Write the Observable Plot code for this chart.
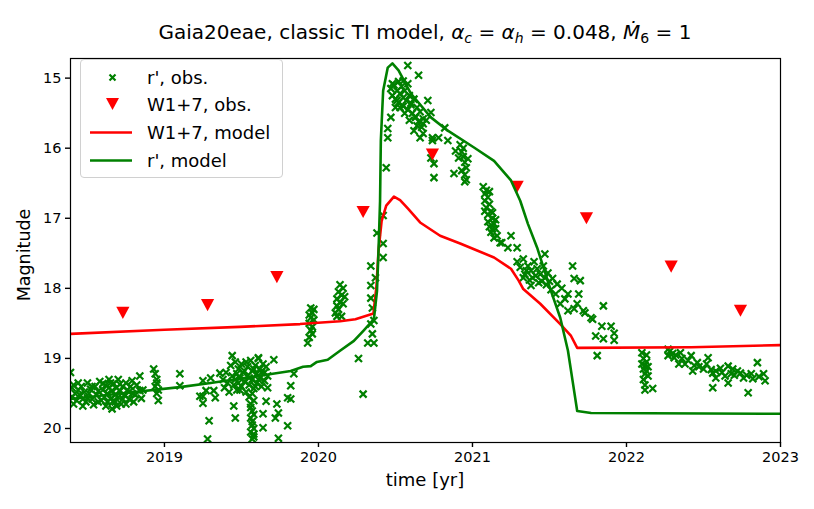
<!DOCTYPE html>
<html><head><meta charset="utf-8">
<script src="https://cdn.jsdelivr.net/npm/d3@7"></script>
<script src="https://cdn.jsdelivr.net/npm/@observablehq/plot@0.6"></script>
<style>
body{margin:0;background:#fff;font-family:"DejaVu Sans",sans-serif;}
#wrap{position:relative;width:814px;height:509px;overflow:hidden;}
#title{position:absolute;left:70px;width:710px;top:20px;text-align:center;font-size:20px;line-height:24px;white-space:nowrap;}
#title sub{font-size:14px;vertical-align:-4px;line-height:0;}
#xlab{position:absolute;left:70px;width:710px;top:469px;text-align:center;font-size:18px;}
#ylab{position:absolute;left:24px;top:255px;font-size:17.5px;transform:translate(-50%,-50%) rotate(-90deg);white-space:nowrap;}
#legend{position:absolute;left:80px;top:59px;width:201px;height:117px;border:1px solid #d0d0d0;border-radius:4px;background:rgba(255,255,255,0.8);}
.le{position:absolute;left:0;height:26px;display:flex;align-items:center;font-size:18px;white-space:nowrap;}
.le svg{width:56px;height:26px;margin-left:4px;margin-right:6px;}
</style></head><body>
<div id="wrap">
<div id="chart"></div>
<div id="title">Gaia20eae, classic TI model, <i>α</i><sub><i>c</i></sub> = <i>α</i><sub><i>h</i></sub> = 0.048, <i>Ṁ</i><sub>6</sub> = 1</div>
<div id="xlab">time [yr]</div>
<div id="ylab">Magnitude</div>
<div id="legend"></div>
</div>
<script>
// r' observations: [time (yr), magnitude]
const rObsEarly = [
[2018.39,19.20],[2018.40,19.42],[2018.40,19.55],[2018.41,19.38],[2018.42,19.50],[2018.43,19.60],[2018.44,19.45],[2018.45,19.52],[2018.46,19.40],[2018.47,19.58],
[2018.48,19.48],[2018.49,19.62],[2018.50,19.35],[2018.51,19.50],[2018.52,19.44],[2018.53,19.58],[2018.54,19.66],[2018.55,19.40],[2018.56,19.52],[2018.57,19.47],
[2018.58,19.33],[2018.59,19.60],[2018.60,19.45],[2018.61,19.55],[2018.62,19.38],[2018.62,19.68],[2018.63,19.50],[2018.64,19.30],[2018.64,19.42],[2018.65,19.58],
[2018.66,19.46],[2018.66,19.72],[2018.67,19.36],[2018.68,19.52],[2018.68,19.62],[2018.69,19.42],[2018.70,19.30],[2018.70,19.55],[2018.71,19.47],[2018.72,19.65],
[2018.73,19.40],[2018.74,19.52],[2018.75,19.35],[2018.76,19.45],[2018.77,19.58],[2018.78,19.40],[2018.79,19.50],[2018.80,19.62],[2018.82,19.38],[2018.84,19.25],
[2018.84,19.46],[2018.85,19.57],[2018.93,19.15],[2018.94,19.22],[2018.95,19.30],[2018.94,19.40],[2018.95,19.50],[2018.96,19.60],[2018.95,19.35],[2018.96,19.45],
[2018.41,19.65],[2018.44,19.35],[2018.47,19.68],[2018.50,19.56],[2018.53,19.40],[2018.57,19.62],[2018.60,19.36],[2018.63,19.62],[2018.65,19.35],[2018.67,19.60],
[2018.69,19.68],[2018.71,19.37],[2018.73,19.58],[2018.75,19.65],[2018.77,19.48],[2018.79,19.32],[2018.81,19.52],[2018.86,19.45],
[2019.10,19.22],[2019.10,19.39],[2019.23,19.54]
];
const rObsQuiescent = [
[2019.25,19.32],[2019.25,19.54],[2019.25,19.64],[2019.27,19.46],[2019.29,19.89],[2019.28,20.15],[2019.30,19.28],[2019.32,19.46],[2019.33,19.56],[2019.36,19.21],
[2019.38,19.30],[2019.39,19.42],[2019.40,19.20],[2019.41,19.35],[2019.42,19.48],[2019.43,19.10],[2019.44,19.25],[2019.44,18.96],[2019.45,19.38],[2019.45,19.68],
[2019.46,19.05],[2019.46,19.30],[2019.46,19.85],[2019.47,19.45],[2019.48,19.15],[2019.49,19.28],[2019.50,19.40],[2019.50,19.08],[2019.51,19.20],[2019.52,19.33],
[2019.53,19.48],[2019.54,19.12],[2019.54,19.25],[2019.55,19.38],[2019.56,19.03],[2019.57,19.18],[2019.57,19.30],[2019.58,19.43],[2019.59,19.10],[2019.60,19.22],
[2019.60,19.35],[2019.61,19.00],[2019.61,18.99],[2019.62,19.15],[2019.62,19.28],[2019.63,19.40],[2019.64,19.08],[2019.65,19.20],[2019.65,19.32],[2019.66,19.12],
[2019.67,19.25],[2019.55,19.55],[2019.56,19.65],[2019.57,19.75],[2019.56,19.85],[2019.57,19.95],[2019.56,20.05],[2019.57,20.15],[2019.58,19.60],[2019.58,19.80],
[2019.58,20.00],[2019.58,20.12],[2019.57,19.50],[2019.56,19.70],[2019.57,19.90],[2019.58,20.08],[2019.66,19.61],[2019.64,19.79],[2019.64,19.99],[2019.67,19.42],
[2019.71,19.02],[2019.73,19.65],[2019.74,19.78],[2019.72,19.85],[2019.74,20.14],[2019.80,19.96],[2019.80,19.56],[2019.82,19.39],[2019.82,19.58],[2019.84,19.22],
[2019.48,19.35],[2019.52,19.18],[2019.55,19.28],[2019.59,19.40],[2019.63,19.20],[2019.53,19.05],[2019.58,19.15],[2019.49,19.45],[2019.61,19.30],[2019.47,19.22],
[2019.93,18.78],[2019.94,18.70],[2019.95,18.60],[2019.94,18.50],[2019.95,18.42],[2019.96,18.35],[2019.95,18.28],[2019.96,18.55],[2019.97,18.45],[2019.96,18.65],
[2019.94,18.38],[2019.97,18.30],
[2020.11,18.35],[2020.12,18.25],[2020.12,18.15],[2020.13,18.05],[2020.14,17.95],[2020.13,18.30],[2020.14,18.20],[2020.15,18.10],[2020.15,18.40],[2020.16,18.00],
[2020.16,18.22],[2020.17,18.12],[2020.12,18.40]
];
const rObsOutburst = [
[2020.26,19.00],[2020.29,19.51],[2020.34,17.68],[2020.34,17.96],[2020.34,18.14],[2020.35,18.28],[2020.37,17.85],[2020.36,18.46],[2020.34,18.51],[2020.35,18.65],
[2020.36,18.78],[2020.32,18.78],[2020.38,17.21],[2020.42,17.36],[2020.42,17.56],[2020.44,16.28],[2020.42,16.96],[2020.45,15.72],[2020.47,15.56],[2020.50,15.42],
[2020.45,15.85],[2020.58,14.82],[2020.65,14.96],[2020.48,15.08],[2020.55,15.04],
[2020.47,15.15],[2020.48,15.25],[2020.49,15.10],[2020.50,15.30],[2020.51,15.18],[2020.52,15.05],[2020.52,15.35],[2020.53,15.22],[2020.54,15.12],[2020.55,15.28],
[2020.55,15.40],[2020.56,15.18],[2020.57,15.32],[2020.58,15.08],[2020.58,15.45],[2020.59,15.25],[2020.60,15.38],[2020.61,15.50],[2020.62,15.30],[2020.63,15.55],
[2020.64,15.42],[2020.65,15.62],[2020.66,15.48],[2020.67,15.70],[2020.68,15.58],[2020.51,15.32],[2020.60,15.36],[2020.63,15.56],[2020.62,15.75],[2020.68,15.65],
[2020.71,15.32],[2020.68,15.79],[2020.73,15.49],[2020.74,15.85],[2020.73,16.14],[2020.75,16.22],[2020.75,16.42],[2020.74,15.89],[2020.78,15.85],[2020.82,15.71],
[2020.84,15.89],[2020.88,16.36],[2020.89,16.04],[2020.91,16.14],
[2020.92,15.95],[2020.93,16.05],[2020.94,16.12],[2020.95,16.20],[2020.96,16.28],[2020.95,16.38],[2020.96,16.45],[2020.94,16.00],[2020.97,16.15],[2020.93,16.32],
[2020.95,16.48],[2020.53,15.42],[2020.56,15.50],[2020.59,15.60],[2020.64,15.68],[2020.70,15.60],[2020.66,15.85]
];
const rObsDecline = [
[2021.07,16.55],[2021.08,16.65],[2021.08,16.75],[2021.09,16.85],[2021.09,16.60],[2021.10,16.95],[2021.10,17.05],[2021.11,16.80],[2021.11,17.12],[2021.12,16.90],
[2021.12,17.20],[2021.13,17.00],[2021.14,17.08],[2021.15,17.15],[2021.16,17.25],[2021.10,16.70],[2021.13,16.92],[2021.14,17.28],
[2021.19,17.35],[2021.25,17.25],[2021.23,17.42],[2021.29,17.42],[2021.18,17.35],
[2021.29,17.62],[2021.31,17.70],[2021.33,17.58],[2021.34,17.80],[2021.36,17.68],[2021.37,17.88],[2021.38,17.75],[2021.40,17.62],[2021.41,17.82],[2021.42,17.72],
[2021.43,17.92],[2021.44,17.80],[2021.46,17.68],[2021.47,17.85],[2021.48,17.95],[2021.49,17.78],[2021.50,17.90],[2021.51,18.02],[2021.52,17.86],[2021.47,17.51],
[2021.38,17.96],[2021.33,17.85],[2021.55,17.94],[2021.54,18.08],[2021.57,18.22],[2021.65,17.68],[2021.66,17.86],[2021.70,17.89],[2021.69,18.08],[2021.62,18.08],
[2021.62,18.32],[2021.68,18.22],[2021.72,18.32],[2021.77,18.42],[2021.85,18.25],[2021.84,18.54],[2021.80,18.68],[2021.85,18.72],[2021.90,18.54],[2021.92,18.64],
[2021.92,18.74],[2021.81,18.96],[2021.66,18.29],[2021.73,18.35],[2021.78,18.44],
[2021.08,16.90],[2021.11,16.62],[2021.13,17.15],[2021.15,17.02],[2021.35,17.75],[2021.39,17.85],[2021.45,17.90],[2021.58,18.00],[2021.60,18.15]
];
const rObsLate = [
[2022.10,18.92],[2022.11,19.00],[2022.10,19.08],[2022.11,19.15],[2022.12,19.22],[2022.11,19.30],[2022.12,19.38],[2022.13,18.95],[2022.13,19.05],[2022.14,19.12],
[2022.14,19.25],[2022.12,19.45],[2022.17,19.43],[2022.13,19.18],[2022.12,19.10],
[2022.27,18.87],[2022.27,18.96],[2022.35,18.92],[2022.42,18.96],[2022.38,19.08],[2022.46,19.06],[2022.53,18.99],[2022.50,19.15],[2022.56,19.21],[2022.56,19.42],
[2022.61,19.14],[2022.66,19.11],[2022.66,19.35],[2022.69,19.15],[2022.74,19.21],[2022.76,19.28],[2022.81,19.22],[2022.82,19.29],[2022.85,19.06],[2022.89,19.22],
[2022.90,19.32],[2022.79,19.49],[2022.43,19.18],[2022.34,19.08],[2022.31,18.99],[2022.68,19.22],[2022.58,19.28],
[2022.28,18.90],[2022.30,18.93],[2022.32,18.95],[2022.36,19.00],[2022.40,19.03],[2022.44,19.10],[2022.47,19.12],[2022.52,19.08],[2022.55,19.16],[2022.58,19.18],
[2022.62,19.20],[2022.64,19.25],[2022.70,19.24],[2022.72,19.18],[2022.78,19.24],[2022.86,19.26]
];
const rObs = [...rObsEarly, ...rObsQuiescent, ...rObsOutburst, ...rObsDecline, ...rObsLate];

// W1+7 observations
const w1ObsTime = [2018.73, 2019.28, 2019.73, 2020.29, 2020.74, 2021.29, 2021.74, 2022.29, 2022.74];
const w1ObsMag  = [18.35, 18.24, 17.84, 16.91, 16.09, 16.55, 17.00, 17.69, 18.32];

// W1+7 model
const w1ModelTime = [2018.39,2019.0,2019.49,2019.88,2020.14,2020.24,2020.357,2020.377,2020.39,2020.41,2020.44,2020.49,2020.53,2020.58,2020.66,2020.79,2020.92,2021.03,2021.14,2021.25,2021.30,2021.33,2021.44,2021.57,2021.64,2021.68,2022.42,2023.0];
const w1ModelMag  = [18.65,18.59,18.55,18.51,18.47,18.44,18.36,17.96,17.46,17.04,16.82,16.69,16.74,16.86,17.06,17.25,17.36,17.46,17.56,17.72,17.89,18.01,18.22,18.51,18.68,18.85,18.84,18.81];

// r' model
const rModelTime = [2018.39,2018.76,2019.10,2019.30,2019.64,2019.82,2019.90,2019.95,2019.99,2020.06,2020.14,2020.23,2020.29,2020.36,2020.38,2020.39,2020.40,2020.405,2020.42,2020.45,2020.48,2020.52,2020.60,2020.73,2020.84,2021.01,2021.14,2021.25,2021.31,2021.36,2021.42,2021.51,2021.57,2021.62,2021.65,2021.68,2021.77,2023.0];
const rModelMag  = [19.58,19.49,19.41,19.35,19.24,19.18,19.12,19.11,19.05,19.02,18.89,18.75,18.61,18.44,18.04,17.46,16.75,15.89,15.18,14.85,14.79,14.89,15.22,15.56,15.75,15.99,16.18,16.46,16.75,17.08,17.42,18.04,18.42,18.89,19.32,19.75,19.78,19.79];

const xTicks = [2019, 2020, 2021, 2022, 2023];
const yTicks = [15, 16, 17, 18, 19, 20];

const w1Obs = w1ObsTime.map((t,i)=>({t, m:w1ObsMag[i]}));
const w1Model = w1ModelTime.map((t,i)=>({t, m:w1ModelMag[i]}));
const rModel = rModelTime.map((t,i)=>({t, m:rModelMag[i]}));

const xSym = {draw(ctx,size){const r=Math.sqrt(size/Math.PI);ctx.moveTo(-r,-r);ctx.lineTo(r,r);ctx.moveTo(r,-r);ctx.lineTo(-r,r);}};
const triDown = {draw(ctx,size){const r=Math.sqrt(size/Math.PI);ctx.moveTo(-r,-r*0.92);ctx.lineTo(r,-r*0.92);ctx.lineTo(0,r*0.92);ctx.closePath();}};

const chart = Plot.plot({
  width: 814, height: 509,
  marginLeft: 70, marginRight: 34, marginTop: 58, marginBottom: 67,
  style: {fontFamily: "DejaVu Sans", fontSize: "14.5px", color: "black", background: "white", overflow: "visible"},
  x: {domain: [2018.39, 2023], ticks: xTicks, tickFormat: d => String(d), tickSize: 5, tickPadding: 4, label: null},
  y: {domain: [14.72, 20.2], reverse: true, ticks: yTicks, tickFormat: d => String(d), tickSize: 5, tickPadding: 4, label: null},
  marks: [
    Plot.dot(rObs, {x: d => d[0], y: d => d[1], symbol: xSym, r: 3.5, stroke: "#008000", strokeWidth: 2.2, fill: "none", clip: true}),
    Plot.dot(w1Obs, {x: "t", y: "m", symbol: triDown, r: 6.6, fill: "#ff0000", stroke: "none"}),
    Plot.line(w1Model, {x: "t", y: "m", stroke: "#ff0000", strokeWidth: 2.6, clip: true}),
    Plot.line(rModel, {x: "t", y: "m", stroke: "#008000", strokeWidth: 2.6, clip: true}),
    Plot.frame({stroke: "black", strokeWidth: 1.2})
  ]
});
chart.querySelectorAll("g[aria-label$='axis'] path, g[aria-label*='tick'] path").forEach(p => p.setAttribute("stroke-width", "1.4"));
document.getElementById("chart").appendChild(chart);

// legend
const legendItems = [
  {label: "r', obs.", kind: "x"},
  {label: "W1+7, obs.", kind: "tri"},
  {label: "W1+7, model", kind: "lineR"},
  {label: "r', model", kind: "lineG"}
];
const tops = [4, 31, 59, 87];
const lg = document.getElementById("legend");
legendItems.forEach((it, i) => {
  const div = document.createElement("div");
  div.className = "le";
  div.style.top = tops[i] + "px";
  let g = "";
  if (it.kind === "x") g = '<path d="M24.5,10.5L30.5,16.5M30.5,10.5L24.5,16.5" stroke="#008000" stroke-width="2.2"/>';
  if (it.kind === "tri") g = '<path d="M21,7L34,7L27.5,19Z" fill="#ff0000"/>';
  if (it.kind === "lineR") g = '<path d="M5,13.5L47,13.5" stroke="#ff0000" stroke-width="2.6"/>';
  if (it.kind === "lineG") g = '<path d="M5,13.5L47,13.5" stroke="#008000" stroke-width="2.6"/>';
  div.innerHTML = '<svg viewBox="0 0 56 26">' + g + '</svg><span>' + it.label + '</span>';
  lg.appendChild(div);
});
</script>
</body></html>
